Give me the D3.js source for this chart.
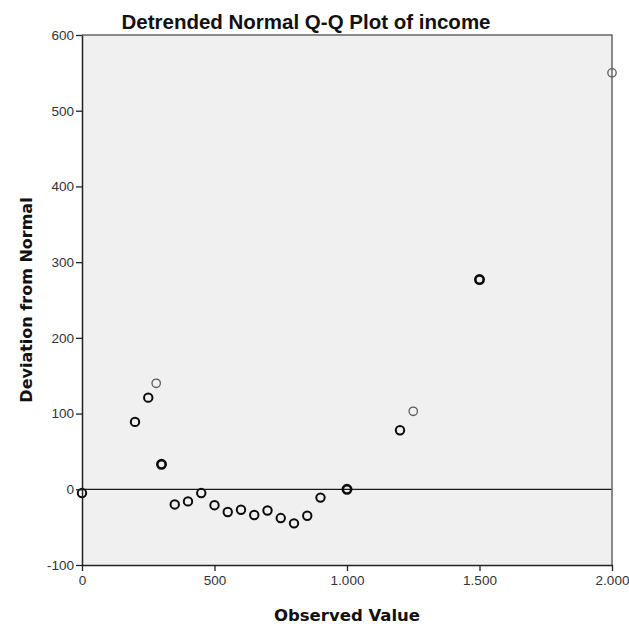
<!DOCTYPE html>
<html>
<head>
<meta charset="utf-8">
<script src="https://cdn.jsdelivr.net/npm/d3@7"></script>
<style>
  body { margin: 0; background: #fff; }
</style>
</head>
<body>
<svg id="chart"></svg>
<script>
// observed values and their deviation from normal
var observed  = [0, 200, 250, 280, 300, 350, 400, 450, 500, 550, 600, 650, 700, 750, 800, 850, 900, 1000, 1200, 1250, 1500, 2000];
var deviation = [-5, 89, 121, 140, 33, -20, -16, -5, -21, -30, -27, -34, -28, -38, -45, -35, -11, 0, 78, 103, 277, 550];
// how many cases share a point (overlap makes the ring darker)
var freq      = [2, 2, 2, 1, 3, 2, 2, 2, 2, 2, 2, 2, 2, 2, 2, 2, 2, 3, 2, 1, 3, 1];

var xTicks = [0, 500, 1000, 1500, 2000];
var yTicks = [-100, 0, 100, 200, 300, 400, 500, 600];

var width = 629, height = 626;
var margin = {top: 35, right: 17, bottom: 61, left: 82};

var svg = d3.select("#chart")
    .attr("width", width)
    .attr("height", height)
    .style("font-family", "Arial, 'Liberation Sans', sans-serif");

var x = d3.scaleLinear()
    .domain([0, 2000])
    .range([margin.left, width - margin.right]);

var y = d3.scaleLinear()
    .domain([-100, 600])
    .range([height - margin.bottom, margin.top]);

// 1.000 style labels, plain hyphen for negatives
var fmt = function(d){ return String(d).replace(/\B(?=(\d{3})+(?!\d))/g, "."); };

// plot background
svg.append("rect")
    .attr("x", x(0))
    .attr("y", y(600))
    .attr("width", x(2000) - x(0))
    .attr("height", y(-100) - y(600))
    .attr("fill", "#f0f0f0");

// reference line at zero
svg.append("line")
    .attr("x1", x(0)).attr("x2", x(2000))
    .attr("y1", y(0)).attr("y2", y(0))
    .attr("stroke", "#1a1a1a")
    .attr("stroke-width", 1.3);

// points
var data = observed.map(function(d, i){ return {x: d, y: deviation[i], n: freq[i]}; });
svg.append("g")
    .attr("fill", "none")
    .selectAll("circle")
    .data(data)
    .join("circle")
    .attr("cx", d => x(d.x))
    .attr("cy", d => y(d.y))
    .attr("r", 4.2)
    .attr("stroke", d => d.n === 1 ? "#5a5a5a" : "#0a0a0a")
    .attr("stroke-width", d => d.n === 1 ? 1.3 : (d.n === 2 ? 2 : 2.6));

// top and right frame
svg.append("path")
    .attr("d", `M${x(0)},${y(600)}H${x(2000)}V${y(-100)}`)
    .attr("fill", "none")
    .attr("stroke", "#666")
    .attr("stroke-width", 1.5);

var xAxis = g => g
    .attr("transform", `translate(0, ${y(-100)})`)
    .call(d3.axisBottom(x).tickValues(xTicks).tickFormat(fmt).tickSize(6).tickSizeOuter(0).tickPadding(4))
    .call(g => g.select(".domain").attr("stroke", "#222").attr("stroke-width", 1.5))
    .call(g => g.selectAll(".tick line").attr("stroke", "#222").attr("stroke-width", 1.3))
    .call(g => g.selectAll(".tick text").attr("fill", "#333").style("font-size", "13.5px").style("font-family", "Arial, sans-serif"));

var yAxis = g => g
    .attr("transform", `translate(${x(0)}, 0)`)
    .call(d3.axisLeft(y).tickValues(yTicks).tickFormat(fmt).tickSize(6).tickSizeOuter(0).tickPadding(2))
    .call(g => g.select(".domain").attr("stroke", "#222").attr("stroke-width", 1.5))
    .call(g => g.selectAll(".tick line").attr("stroke", "#222").attr("stroke-width", 1.3))
    .call(g => g.selectAll(".tick text").attr("fill", "#333").style("font-size", "13.5px").style("font-family", "Arial, sans-serif"));

svg.append("g").call(xAxis);
svg.append("g").call(yAxis);

// titles
svg.append("text")
    .attr("x", 306)
    .attr("y", 29)
    .attr("text-anchor", "middle")
    .style("font-size", "20.5px")
    .style("font-weight", "bold")
    .attr("fill", "#111")
    .text("Detrended Normal Q-Q Plot of income");

svg.append("text")
    .attr("x", (x(0) + x(2000)) / 2)
    .attr("y", 621)
    .attr("text-anchor", "middle")
    .style("font-family", "'DejaVu Sans', sans-serif")
    .style("font-size", "16.5px")
    .style("font-weight", "bold")
    .attr("fill", "#111")
    .text("Observed Value");

svg.append("text")
    .attr("transform", `translate(32, ${(y(600) + y(-100)) / 2}) rotate(-90)`)
    .attr("text-anchor", "middle")
    .style("font-family", "'DejaVu Sans', sans-serif")
    .style("font-size", "16px")
    .style("font-weight", "bold")
    .attr("fill", "#111")
    .text("Deviation from Normal");
</script>
</body>
</html>
